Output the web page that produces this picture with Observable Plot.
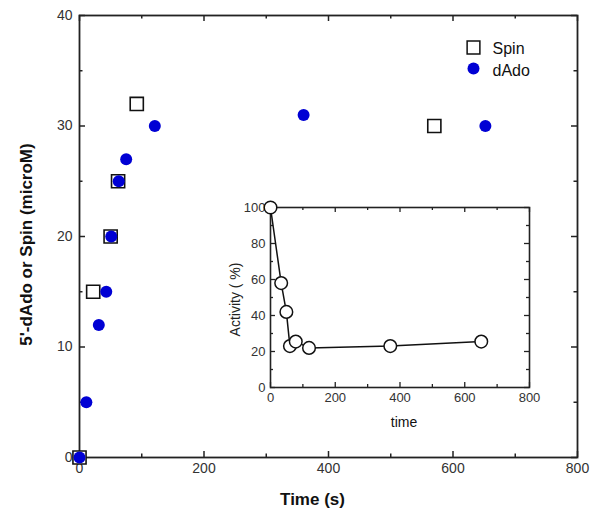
<!DOCTYPE html>
<html>
<head>
<meta charset="utf-8">
<script src="https://cdn.jsdelivr.net/npm/d3@7"></script>
<script src="https://cdn.jsdelivr.net/npm/@observablehq/plot@0.6"></script>
<style>
  body { margin: 0; background: white; }
  #wrap { position: relative; width: 600px; height: 516px; font-family: "Liberation Sans", Arial, Helvetica, sans-serif; }
  #wrap > svg, #wrap > figure { position: absolute; left: 0; top: 0; margin: 0; }
</style>
</head>
<body>
<div id="wrap"></div>
<script>
// ---------- Main chart data ----------
const xDomain = [0, 800];
const yDomain = [0, 40];
const xMajor = [0, 200, 400, 600, 800];
const xMinor = [100, 300, 500, 700];
const yMajor = [0, 10, 20, 30, 40];
const yMinor = [5, 15, 25, 35];

const spinTime = [0, 22, 50, 62, 92, 570];
const spinValue = [0, 15, 20, 25, 32, 30];
const dadoTime = [0, 11, 31, 43, 51, 63, 75, 121, 360, 652];
const dadoValue = [0, 5, 12, 15, 20, 25, 27, 30, 31, 30];

const legendLabels = ["Spin", "dAdo"];
const xTitle = "Time (s)";
const yTitle = "5'-dAdo or Spin (microM)";

// ---------- Inset data ----------
const insetXDomain = [0, 800];
const insetYDomain = [0, 100];
const insetXMajor = [0, 200, 400, 600, 800];
const insetXMinor = [100, 300, 500, 700];
const insetYMajor = [0, 20, 40, 60, 80, 100];
const insetYMinor = [10, 30, 50, 70, 90];
const actTime = [0, 33, 49, 60, 78, 119, 370, 651];
const actValue = [100, 58, 42, 23, 25.5, 22, 23, 25.5];
const insetXTitle = "time";
const insetYTitle = "Activity ( %)";

const spin = spinTime.map((t, i) => ({t, v: spinValue[i]}));
const dado = dadoTime.map((t, i) => ({t, v: dadoValue[i]}));
const act = actTime.map((t, i) => ({t, v: actValue[i]}));

const axisColor = "#222";
const font = "Liberation Sans, Arial, Helvetica, sans-serif";

function frameTicks(xd, yd, xMaj, xMin, yMaj, yMin, maj, min, sw) {
  const o = {stroke: axisColor, strokeWidth: sw};
  const mk = [];
  for (const [vals, len] of [[xMaj, maj], [xMin, min]]) {
    mk.push(Plot.ruleX(vals, {x: d => d, y1: () => yd[0], y2: () => yd[0], insetTop: -len, ...o}));
    mk.push(Plot.ruleX(vals, {x: d => d, y1: () => yd[1], y2: () => yd[1], insetBottom: -len, ...o}));
  }
  for (const [vals, len] of [[yMaj, maj], [yMin, min]]) {
    mk.push(Plot.ruleY(vals, {y: d => d, x1: () => xd[0], x2: () => xd[0], insetRight: -len, ...o}));
    mk.push(Plot.ruleY(vals, {y: d => d, x1: () => xd[1], x2: () => xd[1], insetLeft: -len, ...o}));
  }
  return mk;
}

const blue = "#0000d4";
const txt = {textAnchor: "middle", lineAnchor: "middle"};

const main = Plot.plot({
  width: 600,
  height: 516,
  marginTop: 15,
  marginRight: 23,
  marginBottom: 59,
  marginLeft: 79,
  style: {fontFamily: font, background: "white"},
  x: {domain: xDomain},
  y: {domain: yDomain},
  marks: [
    Plot.frame({stroke: axisColor, strokeWidth: 1.8}),
    ...frameTicks(xDomain, yDomain, xMajor, xMinor, yMajor, yMinor, 6, 3.5, 1.5),
    Plot.axisX({ticks: xMajor, tickSize: 0, tickPadding: 6, fontSize: 14, fill: "#333", label: null, tickFormat: d => String(d)}),
    Plot.axisY({ticks: yMajor, tickSize: 0, tickPadding: 7, fontSize: 14, fill: "#333", label: null, tickFormat: d => String(d)}),
    Plot.dot(spin, {x: "t", y: "v", symbol: "square", r: 7.4, stroke: "#111", strokeWidth: 1.6, fill: "white"}),
    Plot.dot(dado, {x: "t", y: "v", r: 6, fill: blue, stroke: "none"}),
    // legend
    Plot.dot([legendLabels[0]], {frameAnchor: "top-right", dx: -104, dy: 32, symbol: "square", r: 7.2, stroke: "#111", strokeWidth: 1.5, fill: "white"}),
    Plot.dot([legendLabels[1]], {frameAnchor: "top-right", dx: -104, dy: 53, r: 6, fill: blue}),
    Plot.text([legendLabels[0]], {text: d => d, frameAnchor: "top-right", dx: -85, dy: 33, textAnchor: "start", lineAnchor: "middle", fontSize: 16, fill: "#111"}),
    Plot.text([legendLabels[1]], {text: d => d, frameAnchor: "top-right", dx: -85, dy: 55, textAnchor: "start", lineAnchor: "middle", fontSize: 16, fill: "#111"}),
    // axis titles
    Plot.text([xTitle], {text: d => d, frameAnchor: "bottom", dx: -16, dy: 42, ...txt, fontSize: 17, fontWeight: "bold", fill: "#111"}),
    Plot.text([yTitle], {text: d => d, frameAnchor: "left", dx: -53, dy: 8, rotate: -90, ...txt, fontSize: 17, fontWeight: "bold", fill: "#111"})
  ]
});

const inset = Plot.plot({
  width: 600,
  height: 516,
  marginTop: 207,
  marginRight: 71,
  marginBottom: 129,
  marginLeft: 270,
  style: {fontFamily: font, background: "transparent"},
  x: {domain: insetXDomain},
  y: {domain: insetYDomain},
  marks: [
    Plot.frame({stroke: axisColor, strokeWidth: 1.6, fill: "white"}),
    ...frameTicks(insetXDomain, insetYDomain, insetXMajor, insetXMinor, insetYMajor, insetYMinor, 5, 3, 1.3),
    Plot.axisX({ticks: insetXMajor, tickSize: 0, tickPadding: 5, fontSize: 13, fill: "#333", label: null, tickFormat: d => String(d)}),
    Plot.axisY({ticks: insetYMajor, tickSize: 0, tickPadding: 5, fontSize: 13, fill: "#333", label: null, tickFormat: d => String(d)}),
    Plot.line(act, {x: "t", y: "v", stroke: "#111", strokeWidth: 1.5}),
    Plot.dot(act, {x: "t", y: "v", r: 6.3, stroke: "#111", strokeWidth: 1.5, fill: "white"}),
    Plot.text([insetXTitle], {text: d => d, frameAnchor: "bottom", dx: 4, dy: 35, ...txt, fontSize: 14, fill: "#111"}),
    Plot.text([insetYTitle], {text: d => d, frameAnchor: "left", dx: -35, dy: 2, rotate: -90, ...txt, fontSize: 14, fill: "#222"})
  ]
});

const wrap = document.getElementById("wrap");
wrap.appendChild(main);
wrap.appendChild(inset);
</script>
</body>
</html>
